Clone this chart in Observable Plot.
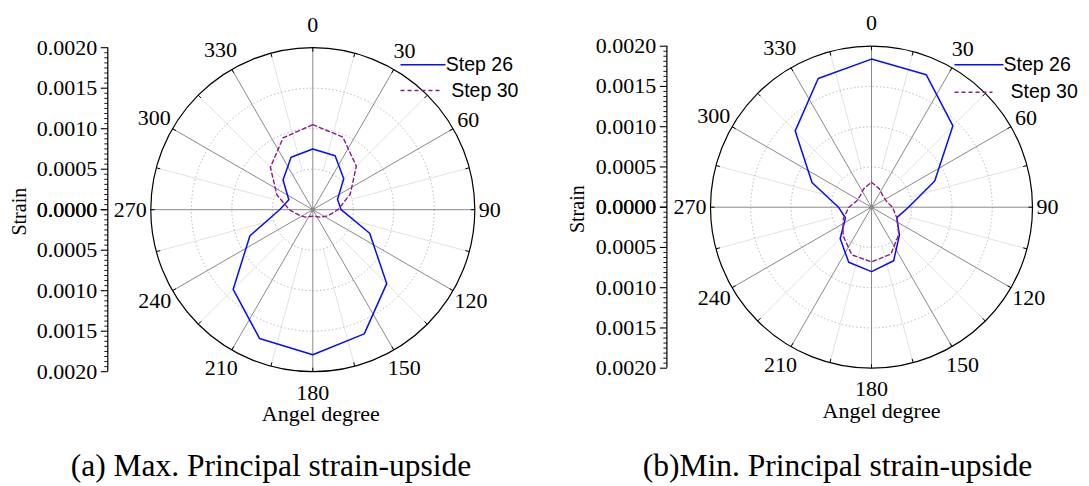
<!DOCTYPE html>
<html><head><meta charset="utf-8">
<script src="https://cdn.jsdelivr.net/npm/d3@7"></script>
<script src="https://cdn.jsdelivr.net/npm/@observablehq/plot@0.6"></script>
<style>
body{margin:0;background:#fff;}
#wrap{position:relative;width:1089px;height:486px;overflow:hidden;}
#wrap svg{position:absolute;top:0;}
</style></head><body><div id="wrap"></div>
<script>
// ---- data ----
const angles = [0,22.5,45,67.5,90,112.5,135,157.5,180,202.5,225,247.5,270,292.5,315,337.5];
const seriesNames = ["Step 26", "Step 30"];
const maxStep26 = [0.00075,0.00072,0.00054,0.00033,0.00035,0.00076,0.00129,0.00166,0.00179,0.00172,0.00139,0.00084,0.00041,0.00032,0.00052,0.00070];
const maxStep30 = [0.00105,0.00097,0.00076,0.00050,0.00031,0.00020,0.00013,0.00009,0.00008,0.00009,0.00013,0.00018,0.00029,0.00048,0.00074,0.00096];
const minStep26 = [0.00184,0.00178,0.00143,0.00085,0.00046,0.00034,0.00049,0.00072,0.00080,0.00074,0.00055,0.00035,0.00041,0.00080,0.00134,0.00173];
const minStep30 = [0.00031,0.00025,0.00020,0.00020,0.00026,0.00034,0.00048,0.00063,0.00068,0.00064,0.00050,0.00038,0.00028,0.00020,0.00020,0.00025];
const angleTicks = [0,30,60,90,120,150,180,210,240,270,300,330];
const minorAngles = [15,45,75,105,135,165,195,225,255,285,315,345];
const strainTicks = [0,0.0005,0.001,0.0015,0.002];
const captions = ["(a) Max. Principal strain-upside", "(b)Min. Principal strain-upside"];
const axisTitle = "Strain";
const angleTitle = "Angel degree";

const rad = d => d * Math.PI / 180;
const RMAX = 0.002;

function panel(o) {
  const {width, cx, cy, k, s26, s30} = o;
  const H = 486;
  const px = v => v / k; // pixel length -> data length
  const rpx = RMAX * k;
  const majorsSigned = [...strainTicks.map(d => -d).reverse(), ...strainTicks];
  const minors = [];
  for (let i = 0; i < 4; i++) for (let j = 1; j < 8; j++) {
    const v = strainTicks[i] + j * (strainTicks[i+1] - strainTicks[i]) / 8;
    minors.push(v, -v);
  }
  const ax = px(o.axisX);
  const labelR = a => {
    const t = String(a), w = t.length * 11;
    const s = Math.sin(rad(a)), c = Math.cos(rad(a));
    const cv = c < 0 ? 17 : 19;
    return px(rpx + 4 + Math.sqrt((w/2*s)**2 + (cv*c)**2));
  };
  const rings = strainTicks.slice(1, 4);
  const serif = "Liberation Serif, Times New Roman, serif";
  const sans = "Liberation Sans, Arial, sans-serif";
  const zero = () => 0;
  return Plot.plot({
    width, height: H, margin: 0,
    x: {domain: [-cx / k, (width - cx) / k], axis: null},
    y: {domain: [-(H - cy) / k, cy / k], axis: null},
    style: {fontFamily: serif, background: "white", overflow: "visible"},
    marks: [
      // minor spokes
      Plot.link(minorAngles, {
        x1: a => 0.0005 * Math.sin(rad(a)), y1: a => 0.0005 * Math.cos(rad(a)),
        x2: a => RMAX * Math.sin(rad(a)), y2: a => RMAX * Math.cos(rad(a)),
        stroke: "#e2e2e2", strokeWidth: 1
      }),
      // dotted rings
      ...rings.map(v => Plot.dot([v], {x: zero, y: zero, r: v * k, fill: "none", stroke: "#b0b0b0", strokeWidth: 1, strokeDasharray: "1.3,2.4"})),
      // major spokes
      Plot.link(angleTicks, {
        x1: zero, y1: zero,
        x2: a => RMAX * Math.sin(rad(a)), y2: a => RMAX * Math.cos(rad(a)),
        stroke: "#8a8a8a", strokeWidth: 1
      }),
      // outer circle
      Plot.dot([RMAX], {x: zero, y: zero, r: rpx, fill: "none", stroke: "black", strokeWidth: 1.2}),
      // outer ticks
      Plot.link([...angleTicks, ...minorAngles], {
        x1: a => (RMAX - px(4)) * Math.sin(rad(a)), y1: a => (RMAX - px(4)) * Math.cos(rad(a)),
        x2: a => RMAX * Math.sin(rad(a)), y2: a => RMAX * Math.cos(rad(a)),
        stroke: "black", strokeWidth: 1
      }),
      Plot.dot([0], {x: zero, y: zero, r: 2.2, fill: "#8a8a8a"}),
      // data
      Plot.line(angles, {
        x: (a, i) => s26[i] * Math.sin(rad(a)), y: (a, i) => s26[i] * Math.cos(rad(a)),
        curve: "linear-closed", stroke: "#0a0aff", strokeWidth: 1.5
      }),
      Plot.line(angles, {
        x: (a, i) => s30[i] * Math.sin(rad(a)), y: (a, i) => s30[i] * Math.cos(rad(a)),
        curve: "linear-closed", stroke: "#8b1a8b", strokeWidth: 1.4, strokeDasharray: "4,3"
      }),
      // angle labels
      Plot.text(angleTicks, {
        x: a => labelR(a) * Math.sin(rad(a)), y: a => labelR(a) * Math.cos(rad(a)),
        text: a => String(a), fontSize: 22, fill: "black", lineAnchor: "middle", textAnchor: "middle"
      }),
      // left strain axis
      Plot.ruleX([ax], {x: d => d, y1: () => -RMAX, y2: () => RMAX, stroke: "black", strokeWidth: 1.2}),
      Plot.link(majorsSigned, {x1: () => ax - px(7), x2: () => ax, y1: d => d, y2: d => d, stroke: "black", strokeWidth: 1.1}),
      Plot.link(minors, {x1: () => ax - px(3.5), x2: () => ax, y1: d => d, y2: d => d, stroke: "black", strokeWidth: 0.9}),
      Plot.text(majorsSigned, {
        x: () => ax - px(10.6), y: d => d, text: d => Math.abs(d).toFixed(4),
        textAnchor: "end", lineAnchor: "middle", fontSize: 22, fill: "black"
      }),
      Plot.text([axisTitle], {x: () => px(-293.5), y: () => px(-2), text: d => d, rotate: -90, fontSize: 20, fill: "black"}),
      Plot.text([angleTitle], {x: () => px(o.titleDX), y: () => px(-211), text: d => d, lineAnchor: "bottom", fontSize: 22, fill: "black"}),
      // legend
      Plot.link([seriesNames[0]], {x1: () => px(o.leg.l1x1), x2: () => px(o.leg.l1x2), y1: () => px(o.leg.l1y), y2: () => px(o.leg.l1y), stroke: "#0a0aff", strokeWidth: 1.4}),
      Plot.link([seriesNames[1]], {x1: () => px(o.leg.l1x1), x2: () => px(o.leg.l2x2), y1: () => px(o.leg.l2y), y2: () => px(o.leg.l2y), stroke: "#8b1a8b", strokeWidth: 1.4, strokeDasharray: "4,3"}),
      Plot.text([seriesNames[0]], {x: () => px(o.leg.t1x), y: () => px(o.leg.l1y), text: d => d, textAnchor: "start", lineAnchor: "middle", fontFamily: sans, fontSize: 19.5, fill: "black"}),
      Plot.text([seriesNames[1]], {x: () => px(o.leg.t2x), y: () => px(o.leg.l2y), text: d => d, textAnchor: "start", lineAnchor: "middle", fontFamily: sans, fontSize: 19.5, fill: "black"}),
      // caption
      Plot.text([o.caption], {x: () => px(o.capDX), y: () => px(cy - 475.5), text: d => d, lineAnchor: "bottom", fontSize: 31.5, fill: "black"})
    ]
  });
}

const wrap = document.getElementById("wrap");
const a = panel({
  width: 545, cx: 312.3, cy: 209.2, k: 162 / RMAX, s26: maxStep26, s30: maxStep30,
  axisX: -205, titleDX: 8, capDX: -41.8, caption: captions[0],
  leg: {l1x1: 87.7, l1x2: 132.7, l2x2: 127.7, l1y: 144.9, l2y: 119.2, t1x: 133, t2x: 138.4}
});
a.style.left = "0px";
const b = panel({
  width: 544, cx: 326, cy: 206.7, k: 161 / RMAX, s26: minStep26, s30: minStep30,
  axisX: -204.6, titleDX: 10, capDX: -34, caption: captions[1],
  leg: {l1x1: 83, l1x2: 132, l2x2: 121, l1y: 142.4, l2y: 115, t1x: 132, t2x: 139}
});
b.style.left = "545px";
wrap.appendChild(a);
wrap.appendChild(b);
</script></body></html>
